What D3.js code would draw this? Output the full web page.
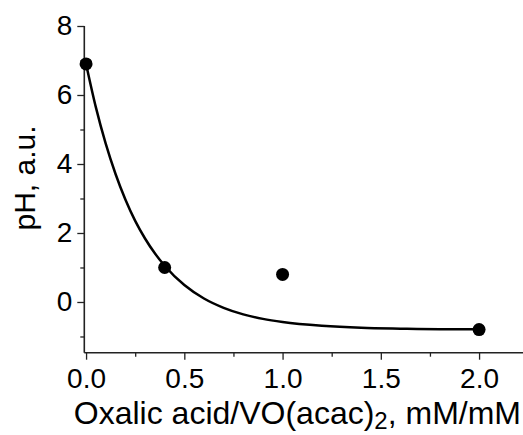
<!DOCTYPE html>
<html>
<head>
<meta charset="utf-8">
<script src="https://cdn.jsdelivr.net/npm/d3@7"></script>
<style>
  html, body { margin: 0; padding: 0; background: #fff; }
  svg { display: block; }
  text { font-family: "Liberation Sans", Arial, sans-serif; fill: #000; }
</style>
</head>
<body>
<svg id="chart" width="523" height="435"></svg>
<script>
// Measured data points
const pointX = [0.0, 0.4, 1.0, 2.0];
const pointY = [6.9, 1.0, 0.8, -0.8];

// Fitted curve
const curveX = [0.0, 0.05, 0.1, 0.15, 0.2, 0.25, 0.3, 0.35, 0.4, 0.5, 0.6, 0.7, 0.8, 0.9, 1.0, 1.2, 1.4, 1.6, 1.8, 2.0];
const curveY = [6.90, 5.64, 4.59, 3.71, 2.97, 2.35, 1.84, 1.41, 1.05, 0.49, 0.10, -0.17, -0.36, -0.49, -0.58, -0.69, -0.75, -0.775, -0.79, -0.79];

// Tick values / labels
const xTicks = [0.0, 0.5, 1.0, 1.5, 2.0];
const xMinorTicks = [0.25, 0.75, 1.25, 1.75, 2.25];
const yTicks = [0, 2, 4, 6, 8];
const yMinorTicks = [-1, 1, 3, 5, 7];

const xTitle = "Oxalic acid/VO(acac)";
const xTitleSub = "2";
const xTitleEnd = ", mM/mM";
const yTitle = "pH, a.u.";

const svg = d3.select("#chart");
const plotLeft = 84.3, plotBottom = 352.7, plotTop = 26, plotRight = 526;

const x = d3.scaleLinear().domain([-0.009, 2.23]).range([plotLeft, plotLeft + 2.239 * 196.5]);
const y = d3.scaleLinear().domain([-1.47, 8]).range([plotBottom, plotTop]);

const axisColor = "#222";
const fontFam = "'Liberation Sans', Arial, sans-serif";

// X axis
const gx = svg.append("g").attr("transform", `translate(0,${plotBottom})`);
gx.call(d3.axisBottom(x).tickValues(xTicks).tickFormat(d3.format(".1f")).tickSize(7).tickPadding(8));
const gxMinor = gx.append("g").call(d3.axisBottom(x).tickValues(xMinorTicks).tickFormat("").tickSize(4));
gxMinor.select(".domain").remove();
gx.select(".domain").attr("stroke", axisColor).attr("stroke-width", 1.6)
  .attr("d", `M${plotLeft},0H${plotRight}`);
gx.selectAll(".tick line").attr("stroke", axisColor).attr("stroke-width", 1.3);
gx.selectAll(".tick text").attr("font-size", 28).attr("fill", "#000").attr("font-family", fontFam);

// Y axis
const gy = svg.append("g").attr("transform", `translate(${plotLeft},0)`);
gy.call(d3.axisLeft(y).tickValues(yTicks).tickFormat(d3.format("d")).tickSize(7).tickPadding(5));
const gyMinor = gy.append("g").call(d3.axisLeft(y).tickValues(yMinorTicks).tickFormat("").tickSize(4));
gyMinor.select(".domain").remove();
gy.select(".domain").attr("stroke", axisColor).attr("stroke-width", 1.6)
  .attr("d", `M0,${plotBottom}V${plotTop}`);
gy.selectAll(".tick line").attr("stroke", axisColor).attr("stroke-width", 1.3);
gy.selectAll(".tick text").attr("font-size", 28).attr("fill", "#000").attr("font-family", fontFam);

// Curve
const curveData = curveX.map((v, i) => [v, curveY[i]]);
svg.append("path")
  .datum(curveData)
  .attr("fill", "none")
  .attr("stroke", "#000")
  .attr("stroke-width", 2.5)
  .attr("d", d3.line().x(d => x(d[0])).y(d => y(d[1])).curve(d3.curveMonotoneX));

// Points
svg.append("g").selectAll("circle")
  .data(pointX.map((v, i) => [v, pointY[i]]))
  .join("circle")
  .attr("cx", d => x(d[0]))
  .attr("cy", d => y(d[1]))
  .attr("r", 6.5)
  .attr("fill", "#000");

// X title
const xt = svg.append("text")
  .attr("x", 521)
  .attr("y", 424)
  .attr("text-anchor", "end")
  .attr("font-size", 32);
xt.append("tspan").text(xTitle);
xt.append("tspan").attr("font-size", 24).attr("dy", 5).text(xTitleSub);
xt.append("tspan").attr("dy", -5).text(xTitleEnd);

// Y title
svg.append("text")
  .attr("transform", "translate(35,178) rotate(-90)")
  .attr("text-anchor", "middle")
  .attr("font-size", 30)
  .text(yTitle);
</script>
</body>
</html>
